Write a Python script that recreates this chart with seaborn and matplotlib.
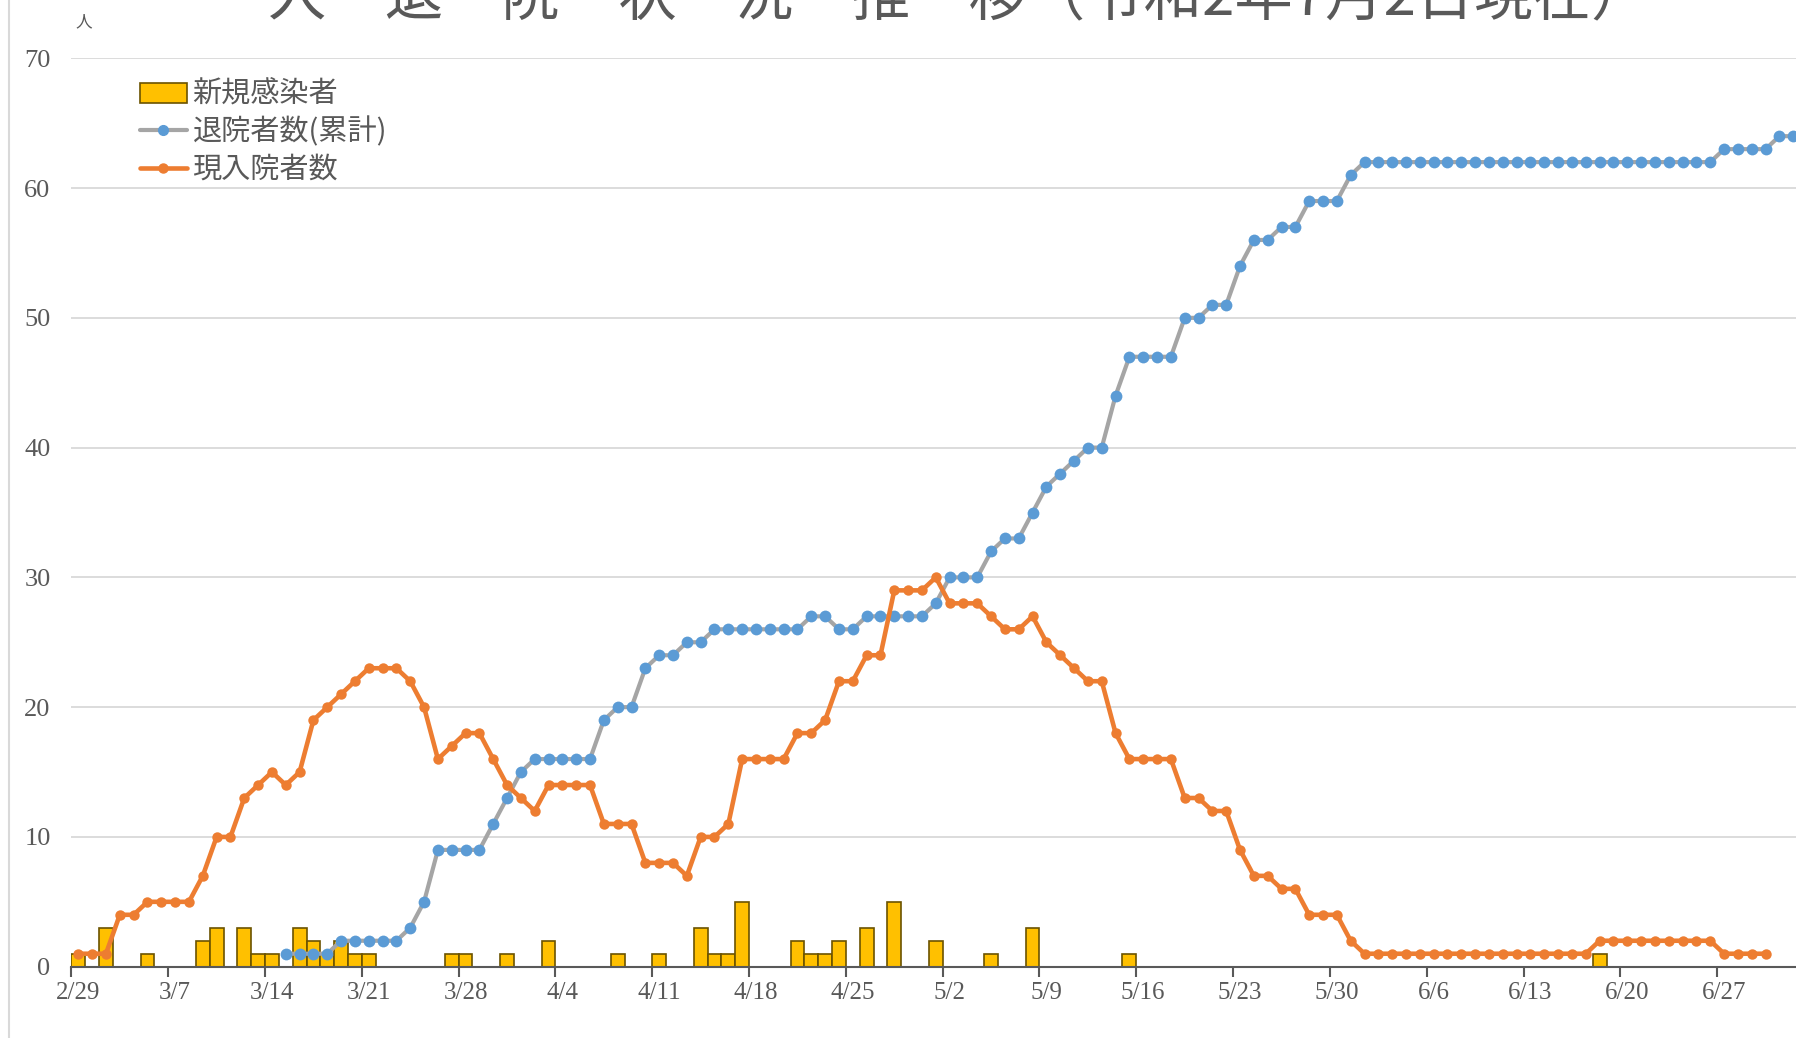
# -*- coding: utf-8 -*-
"""
入退院状況推移（令和2年7月2日現在）
daily new cases (bars), cumulative discharges and current inpatients (lines)
"""
import matplotlib
matplotlib.use('Agg')
import matplotlib.pyplot as plt
from matplotlib.lines import Line2D
from matplotlib.patches import Patch
import numpy as np
import pandas as pd
import seaborn as sns

sns.set_theme(style="white")
plt.rcParams['font.family'] = ['Liberation Serif', 'Noto Sans CJK JP', 'DejaVu Sans']

# one category per day, 2/29 .. 7/2
dates = pd.date_range('2020-02-29', '2020-07-02', freq='D')
date_labels = ['{0}/{1}'.format(d.month, d.day) for d in dates]

# 新規感染者 (one value per day, a week per row)
new_cases = [1, 0, 3, 0, 0, 1, 0,
             0, 0, 2, 3, 0, 3, 1,
             1, 0, 3, 2, 1, 2, 1,
             1, 0, 0, 0, 0, 0, 1,
             1, 0, 0, 1, 0, 0, 2,
             0, 0, 0, 0, 1, 0, 0,
             1, 0, 0, 3, 1, 1, 5,
             0, 0, 0, 2, 1, 1, 2,
             0, 3, 0, 5, 0, 0, 2,
             0, 0, 0, 1, 0, 0, 3,
             0, 0, 0, 0, 0, 0, 1,
             0, 0, 0, 0, 0, 0, 0,
             0, 0, 0, 0, 0, 0, 0,
             0, 0, 0, 0, 0, 0, 0,
             0, 0, 0, 0, 0, 0, 0,
             0, 0, 0, 0, 0, 1, 0,
             0, 0, 0, 0, 0, 0, 0,
             0, 0, 0, 0, 0, 0]

# 退院者数（累計）, first value on 3/15
discharged_first = '2020-03-15'
discharged = [1, 1, 1, 1, 2, 2, 2, 2, 2, 3, 5, 9, 9, 9, 9, 11, 13, 15,
              16, 16, 16, 16, 16, 19, 20, 20, 23, 24, 24, 25, 25,
              26, 26, 26, 26, 26, 26, 26, 27, 27, 26, 26, 27, 27, 27, 27, 27,
              28, 30, 30, 30, 32, 33, 33, 35, 37, 38, 39, 40, 40, 44,
              47, 47, 47, 47, 50, 50, 51, 51, 54, 56, 56, 57, 57, 59, 59, 59, 61,
              62, 62, 62, 62, 62, 62, 62, 62, 62, 62, 62, 62, 62,
              62, 62, 62, 62, 62, 62, 62, 62, 62, 62, 62, 62, 62,
              63, 63, 63, 63, 64, 64]

# 現入院者数, last value on 6/30
inpatients = [1, 1, 1, 4, 4, 5, 5, 5, 5, 7, 10, 10, 13, 14, 15, 14, 15,
              19, 20, 21, 22, 23, 23, 23, 22, 20, 16, 17, 18, 18, 16, 14, 13, 12,
              14, 14, 14, 14, 11, 11, 11, 8, 8, 8, 7, 10, 10, 11,
              16, 16, 16, 16, 18, 18, 19, 22, 22, 24, 24, 29, 29, 29, 30,
              28, 28, 28, 27, 26, 26, 27, 25, 24, 23, 22, 22, 18,
              16, 16, 16, 16, 13, 13, 12, 12, 9, 7, 7, 6, 6, 4, 4, 4, 2,
              1, 1, 1, 1, 1, 1, 1, 1, 1, 1, 1, 1, 1, 1, 1, 1, 1,
              2, 2, 2, 2, 2, 2, 2, 2, 2,
              1, 1, 1, 1]

series_names = ['新規感染者', '退院者数(累計)', '現入院者数']
title = '入　退　院　状　況　推　移（令和2年7月2日現在）'

bar_color = '#FFC000'
bar_edge = '#6b5300'
blue = '#5B9BD5'
gray_line = '#A5A5A5'
orange = '#ED7D31'
text_gray = '#595959'

# day index as numeric x position
day = np.arange(len(dates))
cases_df = pd.DataFrame({'day': day, 'count': new_cases})
cases_df = cases_df[cases_df['count'] > 0]
start = dates.get_loc(pd.Timestamp(discharged_first))
disc_df = pd.DataFrame({'day': day[start:start + len(discharged)], 'count': discharged})
inp_df = pd.DataFrame({'day': day[:len(inpatients)], 'count': inpatients})

W, H = 1796, 1038
fig = plt.figure(figsize=(W / 100, H / 100), dpi=100)
px_per_day = 13.83
x_lo, x_hi = -0.5, 125.5
ax_left, ax_bottom_px, ax_top_px = 71.4, 966.7, 58.3
ax = fig.add_axes([ax_left / W, 1 - ax_bottom_px / H,
                   (x_hi - x_lo) * px_per_day / W, (ax_bottom_px - ax_top_px) / H])

sns.barplot(data=cases_df, x='day', y='count', native_scale=True, width=1,
            color=bar_color, saturation=1, edgecolor=bar_edge, linewidth=1.2,
            errorbar=None, ax=ax, zorder=2)
sns.lineplot(data=disc_df, x='day', y='count', color=gray_line, lw=3,
             marker='o', markersize=8.5, markerfacecolor=blue,
             markeredgecolor=blue, markeredgewidth=0, ax=ax, zorder=3)
sns.lineplot(data=inp_df, x='day', y='count', color=orange, lw=3.3,
             marker='o', markersize=7.5, markerfacecolor=orange,
             markeredgecolor=orange, markeredgewidth=0, ax=ax, zorder=4)

ax.set_xlim(x_lo, x_hi)
ax.set_ylim(0, 70)
ax.set_xlabel('')
ax.set_ylabel('')

# y axis: gridlines only
ax.set_yticks(range(0, 71, 10))
ax.yaxis.grid(True, color='#D9D9D9', lw=1.3)
ax.xaxis.grid(False)
ax.set_axisbelow(True)
ax.tick_params(axis='y', left=False, length=0, pad=15, labelsize=19, labelcolor=text_gray)

# x axis: tick marks on day boundaries, labels centred on the day
ax.set_xticks(np.arange(-0.5, x_hi, 7))
ax.set_xticklabels([])
ax.set_xticks(day[::7], minor=True)
ax.set_xticklabels(date_labels[::7], minor=True)
ax.tick_params(axis='x', which='major', bottom=True, direction='out',
               length=7, width=1.5, color=text_gray)
ax.tick_params(axis='x', which='minor', bottom=True, length=0, pad=11,
               labelsize=18, labelcolor=text_gray)

for s in ['left', 'top', 'right']:
    ax.spines[s].set_visible(False)
ax.spines['bottom'].set_color(text_gray)
ax.spines['bottom'].set_linewidth(1.5)

handles = [Patch(facecolor=bar_color, edgecolor=bar_edge, lw=1.2),
           Line2D([], [], color=gray_line, lw=3, marker='o', markersize=7,
                  markerfacecolor=blue, markeredgecolor=blue),
           Line2D([], [], color=orange, lw=3.3, marker='o', markersize=6.5,
                  markerfacecolor=orange, markeredgecolor=orange)]
leg = ax.legend(handles, series_names, loc='upper left',
                bbox_to_anchor=(140 / W, 1 - 80 / H), bbox_transform=fig.transFigure,
                frameon=False, handlelength=1.6, handletextpad=0.2,
                labelspacing=0.25, borderpad=0, borderaxespad=0,
                prop={'family': ['Noto Sans CJK JP'], 'size': 21})
for t in leg.get_texts():
    t.set_color(text_gray)

fig.text(959 / W, 1 - 15 / H, title, ha='center', va='baseline', fontsize=42,
         color=text_gray, family=['Noto Sans CJK JP'])
fig.text(84 / W, 1 - 22 / H, '人', ha='center', va='center', fontsize=12,
         color=text_gray, family=['Noto Sans CJK JP'])

# outer chart border on the left
fig.add_artist(Line2D([9 / W, 9 / W], [0, 1], transform=fig.transFigure,
                      color='#D9D9D9', lw=1.5))

fig.savefig('out.png', dpi=100)
